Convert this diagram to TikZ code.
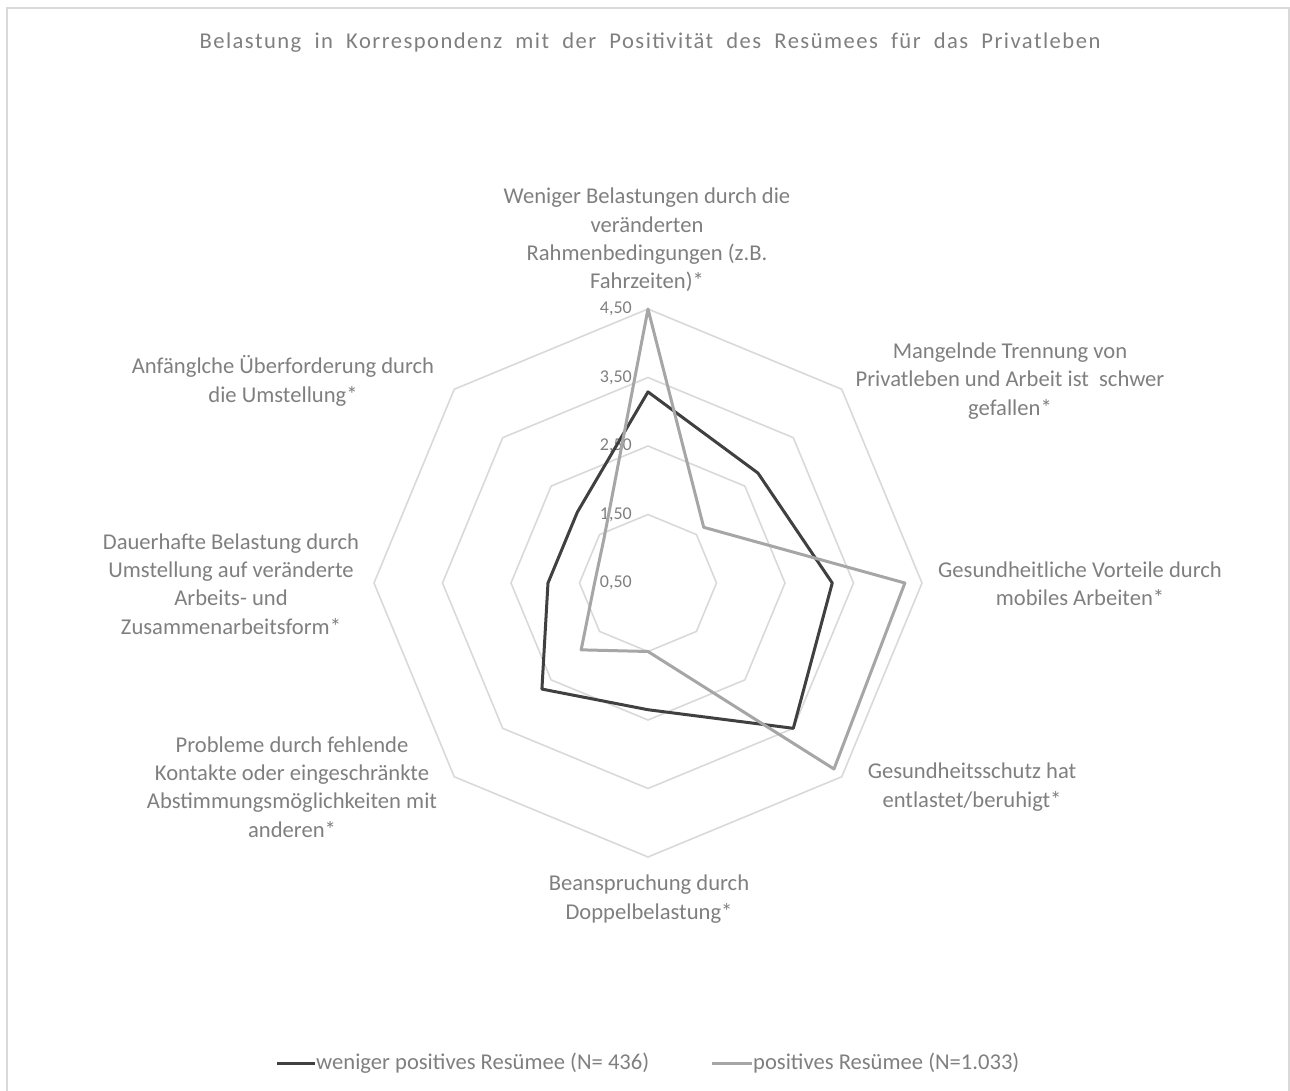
\documentclass[tikz,border=0pt]{standalone}
\usepackage{fontspec}
\setmainfont{Carlito}
\newfontfamily\titlefont[LetterSpace=6.5]{Carlito}
\usepackage{xcolor}
\usepackage{tikz}
\usetikzlibrary{calc}

\definecolor{txtgray}{HTML}{7F7F7F}
\definecolor{ringgray}{HTML}{D9D9D9}
\definecolor{darkser}{HTML}{404040}
\definecolor{lightser}{HTML}{A6A6A6}

\tikzset{
  ring/.style={draw=ringgray, line width=1.6pt},
  series/.style={line width=3pt, line join=round},
  catlabel/.style={text=txtgray, align=center, inner sep=0pt,
                   font=\fontsize{22.6}{28.4}\selectfont},
  ticklabel/.style={text=txtgray, anchor=east, inner sep=0pt,
                    font=\fontsize{18}{20}\selectfont},
  legtext/.style={text=txtgray, anchor=west, inner sep=1pt,
                  font=\fontsize{22.6}{26}\selectfont}
}

\begin{document}
\begin{tikzpicture}[x=1pt,y=1pt]
\useasboundingbox (-648,-507) rectangle (642,583);
\draw[ringgray, line width=2pt] (-641,-520) rectangle (641,575);

\node[text=txtgray, font=\titlefont\fontsize{22.6}{26}\selectfont] (title) at (2,540)
  {Belastung\ \ in\ \ Korrespondenz\ \ mit\ \ der\ \ Positivit\"at\ \ des\ \ Res\"umees\ \ f\"ur\ \ das\ \ Privatleben};

% Gitter
\foreach \v in {1.5,2.5,3.5,4.5}{%
\draw[ring] (90:{(\v-0.5)*68.5})
   \foreach \k in {1,...,7}{ -- (90-45*\k:{(\v-0.5)*68.5}) } -- cycle;
}
\foreach \v/\t [count=\n] in {0.5/{0,50},1.5/{1,50},2.5/{2,50},3.5/{3,50},4.5/{4,50}}{%
\node[ticklabel] (tick\n) at (-16,{(\v-0.5)*68.5}) {\t};
}

% Kategorien
\node[catlabel] (cat0) at (-1,343) {Weniger Belastungen durch die\\ver\"anderten\\Rahmenbedingungen (z.B.\\Fahrzeiten)*};
\node[catlabel] (cat1) at (362,202) {Mangelnde Trennung von\\Privatleben und Arbeit ist~ schwer\\gefallen*};
\node[catlabel] (cat2) at (432,-1) {Gesundheitliche Vorteile durch\\mobiles Arbeiten*};
\node[catlabel] (cat3) at (324,-204) {Gesundheitsschutz hat\\entlastet/beruhigt*};
\node[catlabel] (cat4) at (1,-316) {Beanspruchung durch\\Doppelbelastung*};
\node[catlabel] (cat5) at (-356,-204) {Probleme durch fehlende\\Kontakte oder eingeschr\"ankte\\Abstimmungsm\"oglichkeiten mit\\anderen*};
\node[catlabel] (cat6) at (-417,-1) {Dauerhafte Belastung durch\\Umstellung auf ver\"anderte\\Arbeits- und\\Zusammenarbeitsform*};
\node[catlabel] (cat7) at (-365,202) {Anf\"anglche \"Uberforderung durch\\die Umstellung*};

% Datenreihen
\foreach \val [count=\i from 0] in {3.29,2.77,3.19,3.50,2.35,2.69,1.96,1.96}{%
\coordinate (dk\i) at (90-45*\i:{(\val-0.5)*68.5});
}
\foreach \val [count=\i from 0] in {4.50,1.65,4.25,4.34,1.50,1.88,1.28,1.41}{%
\coordinate (lt\i) at (90-45*\i:{(\val-0.5)*68.5});
}
\draw[series, darkser] (dk0) -- (dk1) -- (dk2) -- (dk3) -- (dk4)
   -- (dk5) -- (dk6) -- (dk7) -- cycle;
\draw[series, lightser] (lt0) -- (lt1) -- (lt2) -- (lt3) -- (lt4)
   -- (lt5) -- (lt6) -- (lt7) -- cycle;

% Legende
\coordinate (lgA) at (-371,-480);
\coordinate (lgB) at (-333,-480);
\coordinate (lgC) at (64,-480);
\coordinate (lgD) at (104,-480);
\draw[series, darkser] (lgA) -- (lgB);
\node[legtext] (leg1) at (lgB) {weniger positives Res\"umee (N= 436)};
\draw[series, lightser] (lgC) -- (lgD);
\node[legtext] (leg2) at (lgD) {positives Res\"umee (N=1.033)};
\end{tikzpicture}
\end{document}
